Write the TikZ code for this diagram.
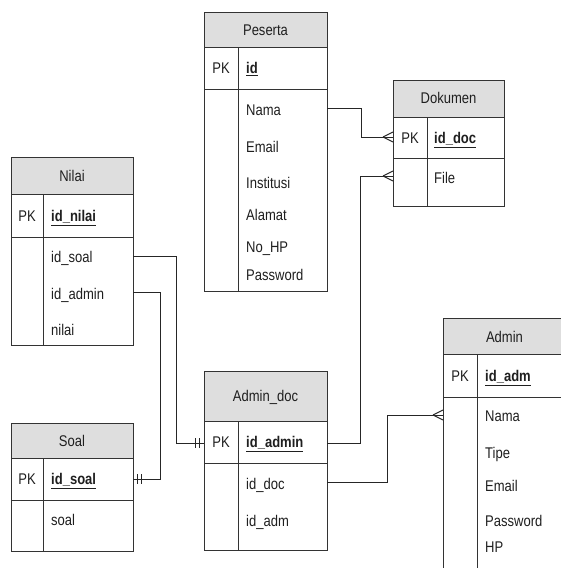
\documentclass[tikz,border=0pt]{standalone}
\usepackage{fontspec}
\setmainfont{Liberation Sans}[FakeStretch=0.84]
\begin{document}
\begin{tikzpicture}[x=1pt,y=-1pt,
  er/.style={draw=black!80, line width=1pt},
  hdr/.style={er, fill=black!13},
  fld/.style={anchor=base west, inner sep=0pt, font=\fontsize{15.5}{18}\selectfont, text=black!88},
  pk/.style={anchor=base, inner sep=0pt, font=\fontsize{15.5}{18}\selectfont, text=black!88},
  ttl/.style={anchor=base, inner sep=0pt, font=\fontsize{15.5}{18}\selectfont, text=black!88},
  conn/.style={draw=black!85, line width=1pt},
]
\useasboundingbox (0,0) rectangle (561,568);
\clip (0,0) rectangle (561,568);
\fill[white] (0,0) rectangle (561,568);

% ---------- Peserta ----------
\draw[hdr] (204,12) rectangle (327,47);
\draw[er] (204,47) rectangle (327,291);
\draw[er] (204,89) -- (327,89);
\draw[er] (238,47) -- (238,291);
\node[ttl] (pes-t) at (265.5,35) {Peserta};
\node[pk] (pes-pk) at (221,73.5) {PK};
\node[fld] (pes-id) at (246,73.5) {\underline{\textbf{id}}};
\node[fld] (pes-nama) at (246,115.5) {Nama};
\node[fld] (pes-email) at (246,152.5) {Email};
\node[fld] (pes-inst) at (246,188.5) {Institusi};
\node[fld] (pes-alamat) at (246,220.5) {Alamat};
\node[fld] (pes-nohp) at (246,252.5) {No\_HP};
\node[fld] (pes-pass) at (246,280.5) {Password};
\coordinate (pes-nama-r) at (327,108);

% ---------- Dokumen ----------
\draw[hdr] (393,80) rectangle (504,117);
\draw[er] (393,117) rectangle (504,206);
\draw[er] (393,158) -- (504,158);
\draw[er] (427,117) -- (427,206);
\node[ttl] (dok-t) at (448.5,103.5) {Dokumen};
\node[pk] (dok-pk) at (410,143.5) {PK};
\node[fld] (dok-id) at (434,143.5) {\underline{\textbf{id\_doc}}};
\node[fld] (dok-file) at (434,183.5) {File};
\coordinate (dok-pk-l) at (393,137);
\coordinate (dok-file-l) at (393,176);

% ---------- Nilai ----------
\draw[hdr] (11,157) rectangle (133,194);
\draw[er] (11,194) rectangle (133,345);
\draw[er] (11,237) -- (133,237);
\draw[er] (43,194) -- (43,345);
\node[ttl] (nil-t) at (72,181.5) {Nilai};
\node[pk] (nil-pk) at (27,221.5) {PK};
\node[fld] (nil-id) at (51,221.5) {\underline{\textbf{id\_nilai}}};
\node[fld] (nil-soal) at (51,262.5) {id\_soal};
\node[fld] (nil-admin) at (51,299.5) {id\_admin};
\node[fld] (nil-nilai) at (51,335.5) {nilai};
\coordinate (nil-soal-r) at (133,256);
\coordinate (nil-admin-r) at (133,292);

% ---------- Soal ----------
\draw[hdr] (11,423) rectangle (133,458);
\draw[er] (11,458) rectangle (133,551);
\draw[er] (11,500) -- (133,500);
\draw[er] (43,458) -- (43,551);
\node[ttl] (soal-t) at (72,446.5) {Soal};
\node[pk] (soal-pk) at (27,484.5) {PK};
\node[fld] (soal-id) at (51,484.5) {\underline{\textbf{id\_soal}}};
\node[fld] (soal-soal) at (51,525.5) {soal};
\coordinate (soal-pk-r) at (133,479);

% ---------- Admin_doc ----------
\draw[hdr] (204,371) rectangle (327,421);
\draw[er] (204,421) rectangle (327,550);
\draw[er] (204,463) -- (327,463);
\draw[er] (238,421) -- (238,550);
\node[ttl] (ad-t) at (265.5,401.5) {Admin\_doc};
\node[pk] (ad-pk) at (221,447.5) {PK};
\node[fld] (ad-id) at (246,447.5) {\underline{\textbf{id\_admin}}};
\node[fld] (ad-doc) at (246,489.5) {id\_doc};
\node[fld] (ad-adm) at (246,526.5) {id\_adm};
\coordinate (ad-pk-l) at (204,443);
\coordinate (ad-pk-r) at (327,443);
\coordinate (ad-doc-r) at (327,482);

% ---------- Admin ----------
\draw[hdr] (443,318) rectangle (566,354);
\draw[er] (443,354) rectangle (566,600);
\draw[er] (443,397) -- (566,397);
\draw[er] (477,354) -- (477,600);
\node[ttl] (adm-t) at (504.5,342.5) {Admin};
\node[pk] (adm-pk) at (460,381.5) {PK};
\node[fld] (adm-id) at (485,381.5) {\underline{\textbf{id\_adm}}};
\node[fld] (adm-nama) at (485,421.5) {Nama};
\node[fld] (adm-tipe) at (485,458.5) {Tipe};
\node[fld] (adm-email) at (485,491.5) {Email};
\node[fld] (adm-pass) at (485,526.5) {Password};
\node[fld] (adm-hp) at (485,552.5) {HP};
\coordinate (adm-nama-l) at (443,415);

% ---------- connectors ----------
\draw[conn] (pes-nama-r) -- (361,108) |- (dok-pk-l);
\draw[conn] (ad-pk-r) -- (360,443) |- (dok-file-l);
\draw[conn] (ad-doc-r) -- (387,482) |- (adm-nama-l);
\draw[conn] (nil-soal-r) -- (176,256) |- (ad-pk-l);
\draw[conn] (nil-admin-r) -- (160,292) |- (soal-pk-r);

% crow's feet (many)
\foreach \c in {dok-pk-l, dok-file-l, adm-nama-l}{
  \draw[conn] (\c) ++(-10,0) -- ++(10,-5);
  \draw[conn] (\c) ++(-10,0) -- ++(10,5);
}
% one-and-only-one marks
\draw[conn] (soal-pk-r) ++(4,-5) -- ++(0,10);
\draw[conn] (soal-pk-r) ++(8,-5) -- ++(0,10);
\draw[conn] (ad-pk-l) ++(-5,-5) -- ++(0,10);
\draw[conn] (ad-pk-l) ++(-9,-5) -- ++(0,10);
\end{tikzpicture}
\end{document}
